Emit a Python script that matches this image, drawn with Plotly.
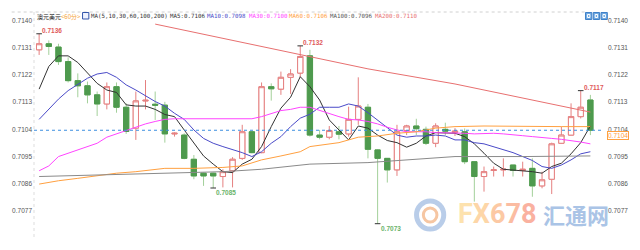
import plotly.graph_objects as go

# ---------------- data ----------------
idx = list(range(1, 59))
opens = [0.71303, 0.71323, 0.71312, 0.71264, 0.71201, 0.71184, 0.71154, 0.71124, 0.71181, 0.71113,
         0.71044, 0.71134, 0.71123, 0.71120, 0.71025, 0.71021, 0.70941, 0.70895, 0.70895, 0.70884,
         0.70903, 0.70944, 0.71032, 0.70963, 0.71181, 0.71173, 0.71212, 0.71226, 0.71283, 0.71021,
         0.71014, 0.71032, 0.71025, 0.71073, 0.71113, 0.70972, 0.70944, 0.70906, 0.71036, 0.71051,
         0.71040, 0.70994, 0.71040, 0.71030, 0.71032, 0.70933, 0.70884, 0.70904, 0.70906, 0.70922,
         0.70904, 0.70911, 0.70853, 0.70875, 0.70994, 0.71021, 0.71082, 0.71137]
highs = [0.71356, 0.71334, 0.71323, 0.71278, 0.71225, 0.71198, 0.71165, 0.71195, 0.71195, 0.71126,
         0.71165, 0.71203, 0.71165, 0.71131, 0.71030, 0.71027, 0.70955, 0.70897, 0.70897, 0.70908,
         0.70948, 0.71055, 0.71034, 0.71195, 0.71192, 0.71231, 0.71239, 0.71316, 0.71303, 0.71038,
         0.71051, 0.71051, 0.71115, 0.71212, 0.71124, 0.70974, 0.70944, 0.71055, 0.71055, 0.71075,
         0.71049, 0.71060, 0.71062, 0.71044, 0.71043, 0.70933, 0.70917, 0.70917, 0.70944, 0.70922,
         0.70933, 0.70944, 0.70900, 0.70996, 0.71049, 0.71126, 0.71168, 0.71154]
lows = [0.71286, 0.71286, 0.71253, 0.71195, 0.71146, 0.71126, 0.71084, 0.71106, 0.71095, 0.71025,
        0.71005, 0.71106, 0.71071, 0.70996, 0.71016, 0.70941, 0.70875, 0.70853, 0.70846, 0.70848,
        0.70848, 0.70939, 0.70961, 0.70961, 0.71135, 0.71154, 0.71157, 0.71212, 0.71016, 0.71007,
        0.71007, 0.71007, 0.71016, 0.71055, 0.70944, 0.70728, 0.70864, 0.70886, 0.71021, 0.71021,
        0.70988, 0.70981, 0.71021, 0.71018, 0.70925, 0.70801, 0.70834, 0.70884, 0.70884, 0.70884,
        0.70884, 0.70817, 0.70845, 0.70826, 0.70992, 0.71021, 0.71076, 0.71021]
closes = [0.71323, 0.71314, 0.71264, 0.71201, 0.71184, 0.71154, 0.71124, 0.71181, 0.71113, 0.71033,
          0.71134, 0.71136, 0.71120, 0.71025, 0.71027, 0.70944, 0.70886, 0.70886, 0.70886, 0.70900,
          0.70941, 0.71032, 0.70963, 0.71181, 0.71174, 0.71212, 0.71223, 0.71281, 0.71021, 0.71014,
          0.71036, 0.71024, 0.71073, 0.71117, 0.70974, 0.70944, 0.70906, 0.71032, 0.71051, 0.71042,
          0.70994, 0.71051, 0.71034, 0.71034, 0.70933, 0.70884, 0.70900, 0.70906, 0.70908, 0.70904,
          0.70908, 0.70853, 0.70873, 0.70992, 0.71021, 0.71082, 0.71113, 0.71037]

ma5 = [0.71173, 0.71248, 0.71283, 0.71283, 0.71261, 0.71226, 0.71192, 0.71170, 0.71162, 0.71121,
       0.71117, 0.71117, 0.71106, 0.71089, 0.71082, 0.71038, 0.70994, 0.70952, 0.70925, 0.70900,
       0.70897, 0.70925, 0.70941, 0.70983, 0.71049, 0.71110, 0.71146, 0.71214, 0.71181, 0.71137,
       0.71071, 0.71038, 0.71005, 0.71051, 0.71044, 0.71021, 0.71003, 0.70996, 0.70981, 0.70994,
       0.71018, 0.71029, 0.71029, 0.71027, 0.71016, 0.70992, 0.70961, 0.70928, 0.70908, 0.70906,
       0.70903, 0.70900, 0.70895, 0.70917, 0.70928, 0.70959, 0.70996, 0.71051]
ma10 = [0.71073, 0.71106, 0.71140, 0.71168, 0.71190, 0.71209, 0.71223, 0.71228, 0.71212, 0.71187,
        0.71170, 0.71151, 0.71132, 0.71117, 0.71093, 0.71073, 0.71038, 0.71010, 0.70994, 0.70983,
        0.70974, 0.70963, 0.70950, 0.70966, 0.70994, 0.71016, 0.71049, 0.71077, 0.71090, 0.71113,
        0.71113, 0.71113, 0.71124, 0.71117, 0.71095, 0.71071, 0.71044, 0.71021, 0.71014, 0.71018,
        0.71018, 0.71021, 0.71018, 0.71005, 0.71005, 0.70996, 0.70992, 0.70983, 0.70972, 0.70963,
        0.70950, 0.70937, 0.70917, 0.70911, 0.70922, 0.70939, 0.70959, 0.70966]
ma30 = [0.70903, 0.70919, 0.70950, 0.70961, 0.70972, 0.70985, 0.70994, 0.71014, 0.71025, 0.71036,
        0.71049, 0.71058, 0.71066, 0.71073, 0.71075, 0.71075, 0.71075, 0.71075, 0.71075, 0.71075,
        0.71075, 0.71075, 0.71075, 0.71082, 0.71093, 0.71102, 0.71106, 0.71113, 0.71113, 0.71102,
        0.71091, 0.71082, 0.71073, 0.71071, 0.71066, 0.71058, 0.71047, 0.71038, 0.71032, 0.71032,
        0.71032, 0.71029, 0.71029, 0.71027, 0.71027, 0.71025, 0.71027, 0.71027, 0.71025, 0.71021,
        0.71019, 0.71016, 0.71014, 0.71010, 0.71007, 0.71003, 0.70998, 0.70992]
ma60_idx = [1, 3, 5, 7, 9, 11, 13, 14, 17, 20, 22, 23, 24, 26, 28, 29, 32, 34, 36, 38, 40, 42, 44, 47, 51, 55, 58]
ma60 = [0.70859, 0.70870, 0.70878, 0.70886, 0.70895, 0.70900, 0.70908, 0.70911, 0.70911, 0.70914,
        0.70919, 0.70928, 0.70939, 0.70952, 0.70966, 0.70983, 0.70996, 0.71014, 0.71018, 0.71027,
        0.71032, 0.71044, 0.71049, 0.71051, 0.71049, 0.71049, 0.71049]
ma100_idx = [1, 10, 14, 20, 24, 29, 35, 39, 44, 51, 58]
ma100 = [0.70884, 0.70892, 0.70897, 0.70900, 0.70908, 0.70925, 0.70930, 0.70939, 0.70950, 0.70950, 0.70952]
ma200_idx = [13, 28, 35, 44, 51, 58]
ma200 = [0.71388, 0.71288, 0.71240, 0.71190, 0.71143, 0.71097]

ma_labels = ["MA5", "MA10", "MA30", "MA60", "MA100", "MA200"]
ma_last = ["0.7106", "0.7098", "0.7100", "0.7106", "0.7096", "0.7110"]
ma_colors = ["#333333", "#4a4ac8", "#ff44ff", "#ffa040", "#8a8a8a", "#e87070"]

title_text = "澳元美元"
period_text = "<60分>"
ma_spec = "MA(5,10,30,60,100,200)"

tick_vals = [0.7077, 0.7086, 0.7095, 0.7104, 0.7113, 0.7122, 0.7131, 0.7140]
tick_text = ["0.7077", "0.7086", "0.7095", "0.7104", "0.7113", "0.7122", "0.7131", "0.7140"]
y_range = [0.70684, 0.71428]
x_range = [0.47, 59.2]

high_marks = [1, 28, 57]
low_marks = [19, 36]

# ---------------- layout helpers (pixel -> paper) ----------------
W, H = 640, 250
L, R, T, B = 23, 32, 12, 13


def px(xp):
    return (xp - L) / (W - L - R)


def py(yp):
    return (H - B - yp) / (H - T - B)


UP = "#e58080"
DN = "#4e9a4e"
DN_WICK = "#a3d09a"

fig = go.Figure()

# wicks (full candles, light colours)
fig.add_trace(go.Candlestick(
    x=idx, open=opens, high=highs, low=lows, close=closes,
    increasing=dict(line=dict(color=UP, width=1), fillcolor="#ffffff"),
    decreasing=dict(line=dict(color=DN_WICK, width=1), fillcolor=DN_WICK),
    whiskerwidth=0, hoverinfo="skip", showlegend=False))

# bodies on top
body_hi = [max(o, c) for o, c in zip(opens, closes)]
body_lo = [min(o, c) for o, c in zip(opens, closes)]
fig.add_trace(go.Candlestick(
    x=idx, open=opens, high=body_hi, low=body_lo, close=closes,
    increasing=dict(line=dict(color=UP, width=1), fillcolor="#ffffff"),
    decreasing=dict(line=dict(color=DN, width=1), fillcolor=DN),
    whiskerwidth=0, hoverinfo="skip", showlegend=False))

# moving averages
ma_series = [(idx, ma5), (idx, ma10), (idx, ma30), (ma60_idx, ma60), (ma100_idx, ma100), (ma200_idx, ma200)]
for (xs, ys), col in zip(ma_series, ma_colors):
    fig.add_trace(go.Scatter(x=xs, y=ys, mode="lines", line=dict(color=col, width=1),
                             hoverinfo="skip", showlegend=False))

# extreme markers
hx = high_marks + low_marks
hy = [highs[i - 1] for i in high_marks] + [lows[i - 1] for i in low_marks]
fig.add_trace(go.Scatter(x=hx, y=hy, mode="markers",
                         marker=dict(symbol="line-ew", size=4, line=dict(color="#333333", width=1)),
                         hoverinfo="skip", showlegend=False))

# invisible trace on right axis
fig.add_trace(go.Scatter(x=[idx[-1]], y=[closes[-1]], yaxis="y2", mode="markers",
                         marker=dict(opacity=0), hoverinfo="skip", showlegend=False))

annotations = []
for i in high_marks:
    annotations.append(dict(x=i, y=highs[i - 1], xref="x", yref="y", text=f"{highs[i - 1]:.4f}",
                            showarrow=False, xanchor="left", yanchor="bottom", xshift=1, yshift=-2,
                            font=dict(family="Liberation Sans", size=6.5, color="#e05a5a", weight="bold")))
for i in low_marks:
    annotations.append(dict(x=i, y=lows[i - 1], xref="x", yref="y", text=f"{lows[i - 1]:.4f}",
                            showarrow=False, xanchor="left", yanchor="top", xshift=1, yshift=1,
                            font=dict(family="Liberation Sans", size=6.5, color="#6ab36a", weight="bold")))

# header
hy_p = py(16)
mono = "DejaVu Sans Mono, Noto Sans CJK SC"
annotations.append(dict(x=px(24), y=hy_p, xref="paper", yref="paper", text=title_text, showarrow=False,
                        xanchor="left", yanchor="middle",
                        font=dict(family="Noto Sans CJK SC", size=6, color="#222222")))
annotations.append(dict(x=px(49), y=hy_p, xref="paper", yref="paper",
                        text=period_text.replace("<", "&lt;").replace(">", "&gt;"), showarrow=False,
                        xanchor="left", yanchor="middle",
                        font=dict(family="Noto Sans CJK SC", size=6, color="#f5a030")))
annotations.append(dict(x=px(80), y=hy_p, xref="paper", yref="paper", text=ma_spec, showarrow=False,
                        xanchor="left", yanchor="middle", font=dict(family=mono, size=5.8, color="#333333")))
ma_x = [161, 199, 242, 284, 326, 372]
for lab, val, col, xp in zip(ma_labels, ma_last, ma_colors, ma_x):
    annotations.append(dict(x=px(xp), y=hy_p, xref="paper", yref="paper", text=f"{lab}:{val}",
                            showarrow=False, xanchor="left", yanchor="middle",
                            font=dict(family=mono, size=5.8, color="#555555" if lab == "MA100" else col)))

# last price box
annotations.append(dict(x=1, y=closes[-1], xref="paper", yref="y", text=f"{closes[-1]:.4f}", showarrow=False,
                        xanchor="left", yanchor="top", xshift=5, yshift=-1, bgcolor="#ffffff",
                        bordercolor="#ffa040", borderwidth=1, borderpad=0,
                        font=dict(family="Liberation Sans", size=6.5, color="#ffa040")))

# watermark
fx_cols = ["#fde2ae", "#fdd6a8", "#fcc9a4", "#fbbca2", "#fab1a0"]
fx_txt = "".join(f'<span style="color:{c}">{ch}</span>' for ch, c in zip("FX678", fx_cols))
annotations.append(dict(x=px(458), y=py(214), xref="paper", yref="paper", text=fx_txt, showarrow=False,
                        xanchor="left", yanchor="middle",
                        font=dict(family="Roboto", size=27, weight="bold")))
annotations.append(dict(x=px(545), y=py(214), xref="paper", yref="paper", text="汇通网", showarrow=False,
                        xanchor="left", yanchor="middle",
                        font=dict(family="Noto Sans CJK SC", size=22, color="#aac4e6", weight="bold")))

shapes = [
    # last price line
    dict(type="line", xref="paper", yref="y", x0=0, x1=1, y0=closes[-1], y1=closes[-1],
         line=dict(color="#3d8fe0", width=1, dash="dot")),
    # top separator and left border
    dict(type="line", xref="paper", yref="paper", x0=px(0), x1=px(592), y0=1, y1=1,
         line=dict(color="#d0d0d0", width=1, dash="dot")),
    dict(type="line", xref="paper", yref="paper", x0=0, x1=0, y0=0, y1=1,
         line=dict(color="#dddddd", width=1, dash="dot")),
    # header icon
    dict(type="rect", xref="paper", yref="paper", x0=px(73), x1=px(79.5), y0=py(19), y1=py(12.5),
         line=dict(color="#3355aa", width=1), fillcolor="#eef2ff"),
    # watermark logo
    dict(type="circle", xref="paper", yref="paper", x0=px(417), x1=px(445), y0=py(229), y1=py(201),
         line=dict(color="#b9cde9", width=5), layer="below"),
    dict(type="circle", xref="paper", yref="paper", x0=px(424), x1=px(438), y0=py(222), y1=py(208),
         line=dict(color="#f6c6a2", width=3), layer="below"),
]
for x0 in [591, 599, 607]:
    shapes.append(dict(type="rect", xref="paper", yref="paper", x0=px(x0), x1=px(x0 + 6.5), y0=py(19.5),
                       y1=py(12.5), line=dict(color="#3f80c8", width=1), fillcolor="#6fa8e0"))
    shapes.append(dict(type="rect", xref="paper", yref="paper", x0=px(x0 + 2), x1=px(x0 + 4.5), y0=py(17.5),
                       y1=py(14.5), line=dict(color="#ffffff", width=1), fillcolor="rgba(0,0,0,0)"))

axis_font = dict(family="Liberation Sans", size=6.5, color="#555555")
fig.update_layout(
    width=W, height=H, margin=dict(l=L, r=R, t=T, b=B),
    paper_bgcolor="#ffffff", plot_bgcolor="#ffffff",
    showlegend=False, boxgap=0.22, hovermode=False,
    xaxis=dict(range=x_range, showgrid=False, zeroline=False, showticklabels=False,
               rangeslider=dict(visible=False), fixedrange=True),
    yaxis=dict(range=y_range, tickvals=tick_vals, ticktext=tick_text, showgrid=False, zeroline=False,
               tickfont=axis_font, ticks="", ticklabelstandoff=1),
    yaxis2=dict(range=y_range, tickvals=tick_vals, ticktext=tick_text, showgrid=False, zeroline=False,
                overlaying="y", side="right", tickfont=axis_font, ticks="", ticklabelstandoff=5),
    shapes=shapes, annotations=annotations,
)

fig.write_html("out.html")
